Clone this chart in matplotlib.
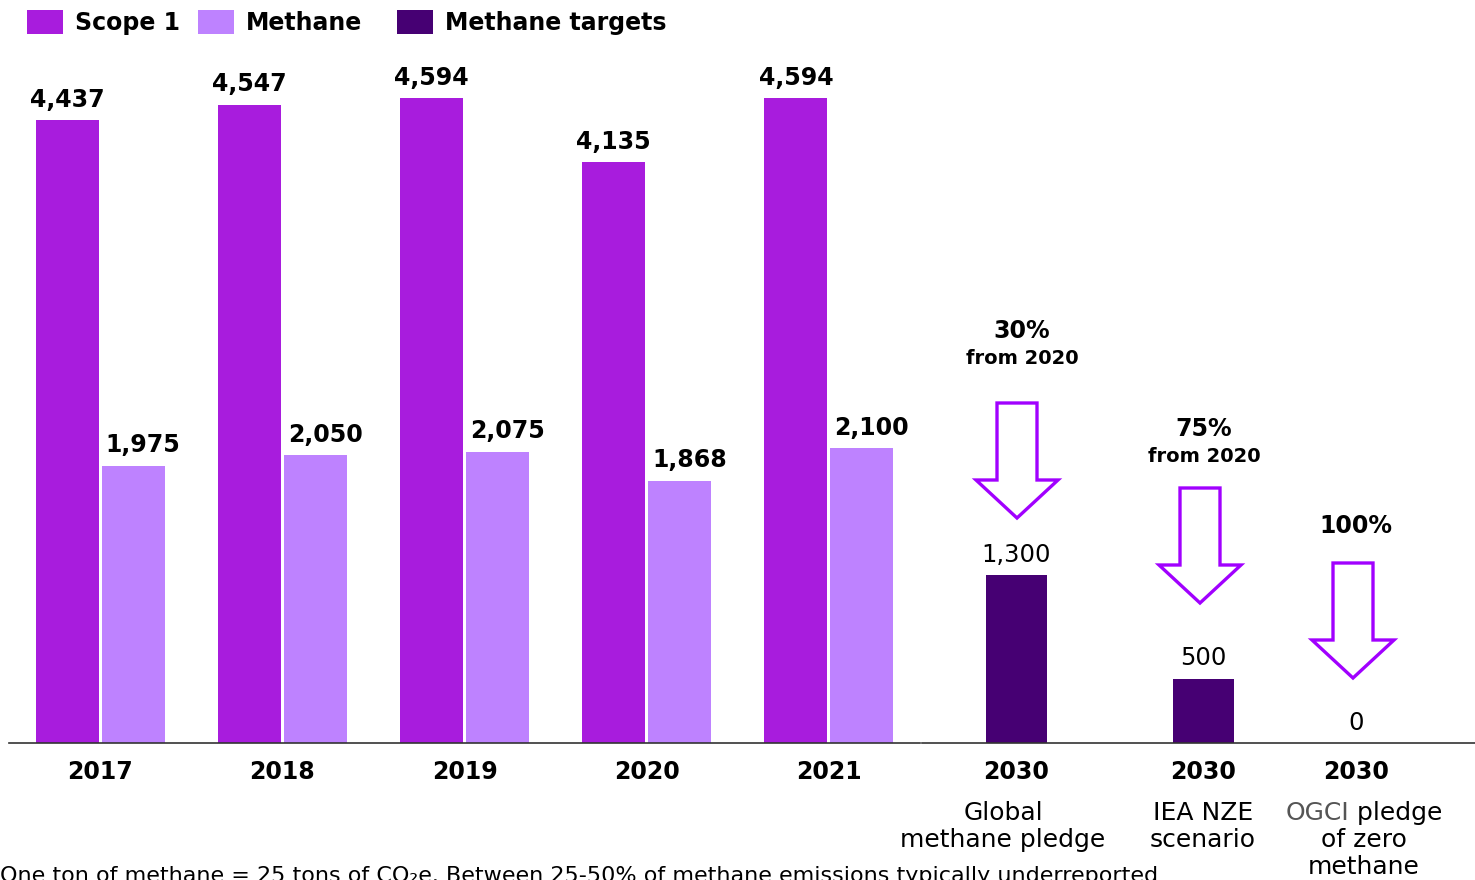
import matplotlib
matplotlib.use("Agg")
import matplotlib.pyplot as plt
from matplotlib.patches import Rectangle, Polygon

# Emissions, thousand tonnes CO2e
years = ['2017', '2018', '2019', '2020', '2021']
scope1 = [4437, 4547, 4594, 4135, 4594]
methane = [1975, 2050, 2075, 1868, 2100]

# 2030 methane targets
target_years = ['2030', '2030', '2030']
target_values = [1300, 500, 0]
target_names = ['Global\nmethane pledge', 'IEA NZE\nscenario', 'OGCI pledge\nof zero\nmethane']
target_cuts = [('30%', 'from 2020'), ('75%', 'from 2020'), ('100%', None)]

C_SCOPE = '#A81CDD'
C_METH = '#BE82FF'
C_TARGET = '#460073'
C_ARROW = '#A100FF'

W, H = 1475, 880
fig = plt.figure(figsize=(W / 100, H / 100), dpi=100)
plt.rcParams['font.family'] = 'DejaVu Sans'


def fx(px):
    return px / W


def fy(py):
    return 1 - py / H


# left panel: yearly emissions
axL = fig.add_axes([fx(9), fy(743), fx(911), 693 / H])
x = list(range(len(years)))
bw = 0.346
off = 0.181
axL.bar([i - off for i in x], scope1, bw, color=C_SCOPE)
axL.bar([i + off for i in x], methane, bw, color=C_METH)
for i in x:
    axL.annotate(f'{scope1[i]:,}', (i - off, scope1[i]), xytext=(0, 6), textcoords='offset points',
                 ha='center', va='bottom', fontsize=17, fontweight='bold')
    axL.annotate(f'{methane[i]:,}', (i + off, methane[i]), xytext=(7, 6), textcoords='offset points',
                 ha='center', va='bottom', fontsize=17, fontweight='bold')
axL.set_xlim(-0.5, 4.5)
axL.set_ylim(0, 693 / 0.1404)
axL.set_xticks(x)
axL.set_xticklabels(years, fontsize=17, fontweight='bold')

# right panel: 2030 targets
axR = fig.add_axes([fx(922), fy(743), fx(553), 693 / H])
tpos = [1016, 1203, 1356]
axR.bar(tpos, target_values, 61, color=C_TARGET)
for p, v in zip(tpos, target_values):
    axR.annotate(f'{v:,}', (p, v), xytext=(0, 6), textcoords='offset points',
                 ha='center', va='bottom', fontsize=17.5)
axR.set_xlim(922, 1475)
axR.set_ylim(0, 693 / 0.129)
axR.set_xticks(tpos)
axR.set_xticklabels(target_years, fontsize=17, fontweight='bold')

for ax in (axL, axR):
    for s in ('top', 'right', 'left'):
        ax.spines[s].set_visible(False)
    ax.spines['bottom'].set_color('#333333')
    ax.spines['bottom'].set_linewidth(1.2)
    ax.set_yticks([])
    ax.tick_params(axis='x', length=0, pad=12)

# target descriptions under the 2030 labels
renderer = fig.canvas.get_renderer()
name_x = [1003, 1203, 1364]
for nx, name in zip(name_x, target_names):
    for k, line in enumerate(name.split('\n')):
        y = 813 + 27 * k
        if line.startswith('OGCI'):
            # grey organisation name followed by black text, centred as one line
            full = fig.text(0, 0, line, fontsize=18)
            head = fig.text(0, 0, 'OGCI', fontsize=18)
            wf = full.get_window_extent(renderer).width
            wh = head.get_window_extent(renderer).width
            full.remove()
            head.remove()
            left = nx - wf / 2
            fig.text(fx(left), fy(y), 'OGCI', ha='left', va='center', fontsize=18, color='#555555')
            fig.text(fx(left + wh), fy(y), line[4:], ha='left', va='center', fontsize=18)
        else:
            fig.text(fx(nx), fy(y), line, ha='center', va='center', fontsize=18)

# reduction arrows with percentages
arrow_cx = [1017, 1200, 1353]
arrow_top = [403, 488, 563]
pct_y = [331, 429, 526]
pct_x = [1022, 1204, 1356]
for cx, top, py, px, (pct, sub) in zip(arrow_cx, arrow_top, pct_y, pct_x, target_cuts):
    neck, tip = top + 77, top + 115
    pts = [(cx - 20, top), (cx + 20, top), (cx + 20, neck), (cx + 41, neck), (cx, tip),
           (cx - 41, neck), (cx - 20, neck)]
    fig.patches.append(Polygon([(fx(a), fy(b)) for a, b in pts], closed=True, transform=fig.transFigure,
                               facecolor='white', edgecolor=C_ARROW, linewidth=2.4, joinstyle='miter'))
    fig.text(fx(px), fy(py), pct, ha='center', va='center', fontsize=17, fontweight='bold')
    if sub:
        fig.text(fx(px), fy(py + 27), sub, ha='center', va='center', fontsize=14, fontweight='bold')

# legend
legend_items = [('Scope 1', C_SCOPE, 27), ('Methane', C_METH, 198), ('Methane targets', C_TARGET, 397)]
for label, col, lx in legend_items:
    fig.patches.append(Rectangle((fx(lx), fy(34)), fx(36), 24 / H, transform=fig.transFigure,
                                 facecolor=col, edgecolor='none'))
    fig.text(fx(lx + 48), fy(23), label, ha='left', va='center', fontsize=17, fontweight='bold')

fig.text(0, fy(866), 'One ton of methane = 25 tons of CO\u2082e. Between 25-50% of methane emissions typically underreported',
         ha='left', va='top', fontsize=16)

fig.savefig('out.png', dpi=100)
